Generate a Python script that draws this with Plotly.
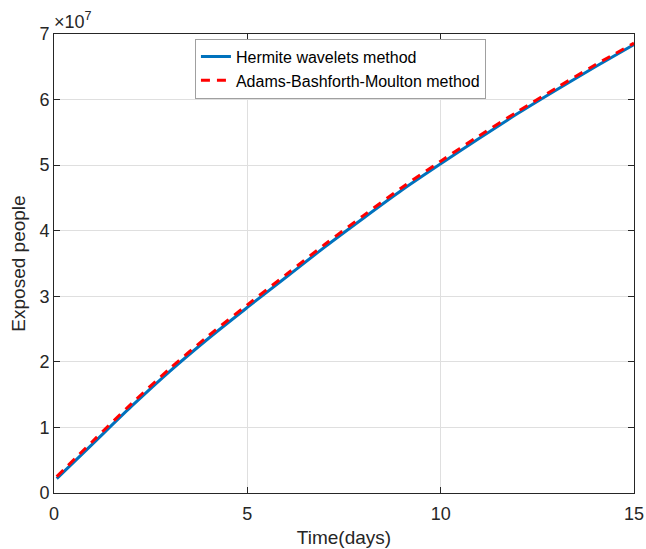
import plotly.graph_objects as go

# Time (days)
t_days = [0.07, 1, 2, 3, 4, 5, 6, 7, 8, 9, 10, 11, 12, 13, 14, 15]
# Exposed people (Hermite wavelets method)
hermite = [0.22e7, 0.75e7, 1.32e7, 1.86e7, 2.36e7, 2.83e7, 3.29e7, 3.75e7, 4.19e7, 4.62e7,
           5.02e7, 5.41e7, 5.79e7, 6.15e7, 6.50e7, 6.84e7]
# Exposed people (Adams-Bashforth-Moulton method)
abm = [0.25e7, 0.79e7, 1.36e7, 1.90e7, 2.40e7, 2.87e7, 3.33e7, 3.79e7, 4.23e7, 4.66e7,
       5.06e7, 5.45e7, 5.82e7, 6.18e7, 6.53e7, 6.86e7]

x_ticks = [0, 5, 10, 15]
y_tickvals = [0, 1e7, 2e7, 3e7, 4e7, 5e7, 6e7, 7e7]
y_ticktext = ["0", "1", "2", "3", "4", "5", "6", "7"]

FONT = "Liberation Sans, Arial, sans-serif"
AX = "#262626"

fig = go.Figure()
fig.add_trace(go.Scatter(x=t_days, y=hermite, mode="lines", name="Hermite wavelets method",
                         line=dict(color="#0072BD", width=3, shape="spline", smoothing=0.8)))
fig.add_trace(go.Scatter(x=t_days, y=abm, mode="lines", name="Adams-Bashforth-Moulton method",
                         line=dict(color="#FF0000", width=3, dash="9px,7px", shape="spline", smoothing=0.8)))

axis_common = dict(showline=True, linecolor=AX, linewidth=1, mirror="ticks", ticks="inside",
                   ticklen=6, tickcolor=AX, showgrid=True, gridcolor="#dfdfdf", gridwidth=1,
                   zeroline=False, automargin=False, tickfont=dict(family=FONT, size=18, color=AX))

fig.update_xaxes(range=[0, 15], tickvals=x_ticks, ticklabeloverflow="allow", ticklabelstandoff=4,
                 title=dict(text="Time(days)", font=dict(family=FONT, size=19, color=AX), standoff=8),
                 **axis_common)
fig.update_yaxes(range=[0, 7e7], tickvals=y_tickvals, ticktext=y_ticktext,
                 title=dict(text="Exposed people", font=dict(family=FONT, size=19, color=AX), standoff=8),
                 **axis_common)

fig.add_annotation(x=0, y=1, xref="paper", yref="paper", xanchor="left", yanchor="bottom",
                   text="×10<sup>7</sup>", showarrow=False, yshift=0, xshift=-2,
                   font=dict(family=FONT, size=18, color=AX))

fig.update_layout(
    width=646, height=549,
    margin=dict(l=54, r=12, t=34, b=56),
    paper_bgcolor="white", plot_bgcolor="white",
    showlegend=True,
    legend=dict(x=0.243, y=0.99, xanchor="left", yanchor="top", bgcolor="white",
                bordercolor="#a0a0a0", borderwidth=1,
                font=dict(family=FONT, size=16, color="#000000"),
                tracegroupgap=0, itemwidth=30),
)

fig.write_html("out.html")
